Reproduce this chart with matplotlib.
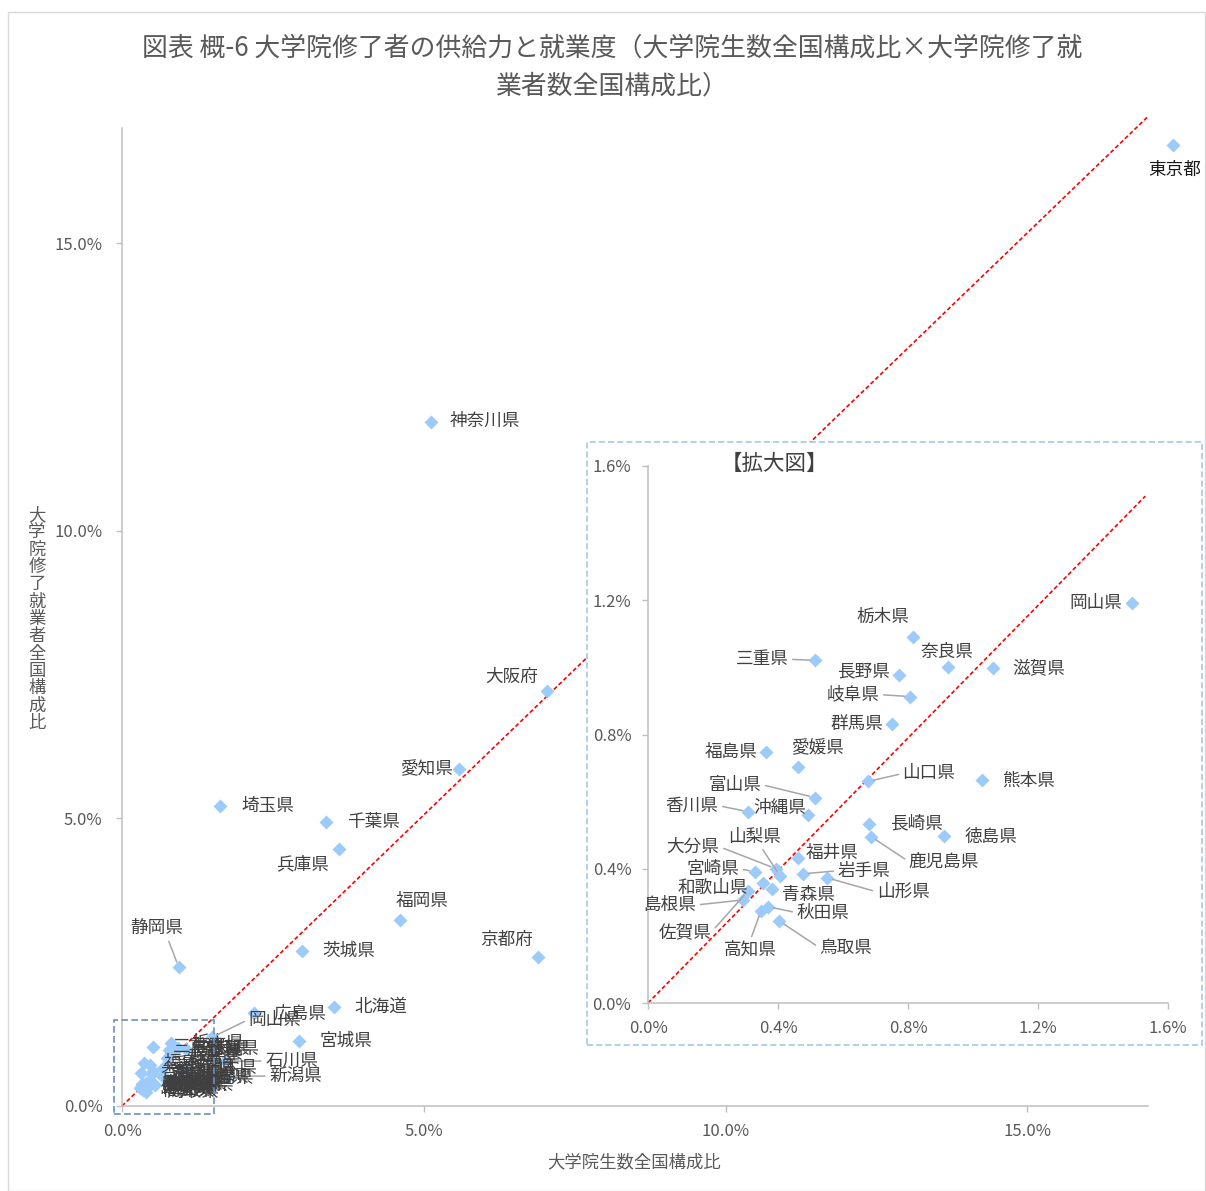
import matplotlib

matplotlib.use("Agg")
import matplotlib.pyplot as plt  # noqa: E402
from matplotlib.patches import Rectangle  # noqa: E402
from matplotlib.ticker import FuncFormatter  # noqa: E402

plt.rcParams["font.family"] = ["Noto Sans CJK JP", "DejaVu Sans"]

# 全国構成比 (%)  x: 大学院生数, y: 大学院修了就業者数
prefectures = [
    "北海道", "青森県", "岩手県", "宮城県", "秋田県", "山形県", "福島県",
    "茨城県", "栃木県", "群馬県", "埼玉県", "千葉県", "東京都", "神奈川県",
    "新潟県", "富山県", "石川県", "福井県", "山梨県", "長野県", "岐阜県",
    "静岡県", "愛知県", "三重県", "滋賀県", "京都府", "大阪府", "兵庫県",
    "奈良県", "和歌山県", "鳥取県", "島根県", "岡山県", "広島県", "山口県",
    "徳島県", "香川県", "愛媛県", "高知県", "福岡県", "佐賀県", "長崎県",
    "熊本県", "大分県", "宮崎県", "鹿児島県", "沖縄県",
]
student_share = [
    3.51, 0.382, 0.477, 2.93, 0.369, 0.551, 0.363,
    2.98, 0.815, 0.751, 1.62, 3.38, 17.42, 5.12,
    1.75, 0.514, 1.70, 0.462, 0.406, 0.772, 0.806,
    0.94, 5.58, 0.514, 1.062, 6.89, 7.04, 3.59,
    0.923, 0.354, 0.403, 0.292, 1.489, 2.19, 0.677,
    0.911, 0.308, 0.462, 0.348, 4.60, 0.308, 0.680,
    1.028, 0.394, 0.329, 0.686, 0.492,
]
employ_share = [
    1.72, 0.340, 0.385, 1.13, 0.287, 0.373, 0.749,
    2.69, 1.090, 0.830, 5.21, 4.93, 16.70, 11.89,
    0.52, 0.612, 0.78, 0.433, 0.379, 0.976, 0.913,
    2.41, 5.85, 1.021, 0.997, 2.59, 7.22, 4.46,
    1.000, 0.358, 0.245, 0.307, 1.191, 1.61, 0.660,
    0.499, 0.570, 0.704, 0.275, 3.23, 0.334, 0.534,
    0.663, 0.400, 0.391, 0.496, 0.561,
]

main_ticks = [0, 5, 10, 15]
inset_ticks = [0, 0.4, 0.8, 1.2, 1.6]
main_max = 17.0
inset_max = 1.6

# y = x の参考線（端点）
ref_main = ([0, 17.0], [0, 17.2])
ref_inset = ([0, 1.53], [0, 1.51])

title = "図表 概-6 大学院修了者の供給力と就業度（大学院生数全国構成比×大学院修了就\n業者数全国構成比）"
xlabel = "大学院生数全国構成比"
ylabel = "大学院修了就業者全国構成比"
inset_title = "【拡大図】"

# ラベル位置 (offset pixels), leader = 引き出し線の起点 (relpos)
main_labels = {
    "東京都": (1, -25, None), "神奈川県": (54, 1, None), "大阪府": (-35, 14, None),
    "愛知県": (-32, 0, None), "埼玉県": (48, 0, None), "千葉県": (48, 0, None),
    "兵庫県": (-36, -15, None), "福岡県": (22, 19, None), "京都府": (-31, 17, None),
    "茨城県": (47, 0, None), "静岡県": (-22, 39, (0.7, 0)), "北海道": (47, 0, None),
    "宮城県": (47, 0, None), "広島県": (46, 0, None), "岡山県": (63, 18, (0, 0.5)),
    "石川県": (67, 0, (0, 0.5)), "新潟県": (68, 0, (0, 0.5)),
}
L, R = (1, 0.5), (0, 0.5)
inset_labels = {
    "岡山県": (-36, 0, None), "栃木県": (-30, 20, None), "奈良県": (-1, 15, None),
    "滋賀県": (46, 0, None), "三重県": (-53, 1, L), "長野県": (-35, 4, None),
    "岐阜県": (-57, 2, L), "群馬県": (-35, 0, None), "福島県": (-35, 0, None),
    "愛媛県": (19, 18, None), "山口県": (61, 8, R), "熊本県": (46, 0, None),
    "富山県": (-80, 13, L), "香川県": (-56, 6, L), "沖縄県": (-28, 7, None),
    "長崎県": (47, 0, None), "鹿児島県": (73, -25, R), "徳島県": (47, -1, None),
    "大分県": (-83, 22, L), "山梨県": (-25, 39, (0.6, 0)), "福井県": (34, 5, None),
    "宮崎県": (-42, 3, L), "岩手県": (61, 3, R), "和歌山県": (-50, -5, None),
    "青森県": (36, -6, None), "山形県": (76, -14, R), "島根県": (-73, -5, L),
    "秋田県": (55, -6, R), "佐賀県": (-63, -41, L), "高知県": (-11, -39, (0.5, 1)),
    "鳥取県": (67, -27, R),
}

MARKER = "#9CCBFA"
TEXT = "#404040"
AXIS = "#BFBFBF"
TICK_TEXT = "#595959"
LEADER = "#A6A6A6"
LABEL_FS = 12.7
MS = 7.3

W, H = 1206, 1191


def fx(px):
    return px / W


def fy(py):
    return 1 - py / H


def pct(v, _):
    return f"{v:.1f}%"


def style_axes(a, ticks, lim, pad_x, pad_y):
    for s in ("top", "right"):
        a.spines[s].set_visible(False)
    for s in ("left", "bottom"):
        a.spines[s].set_color(AXIS)
        a.spines[s].set_linewidth(1.1)
    a.set_xlim(0, lim)
    a.set_ylim(0, lim)
    a.set_xticks(ticks)
    a.set_yticks(ticks)
    a.xaxis.set_major_formatter(FuncFormatter(pct))
    a.yaxis.set_major_formatter(FuncFormatter(pct))
    a.tick_params(colors=AXIS, labelcolor=TICK_TEXT, labelsize=12, length=4, width=1)
    a.tick_params(axis="x", pad=pad_x)
    a.tick_params(axis="y", pad=pad_y)


def label_point(a, name, x, y, dx, dy, leader, color=TEXT):
    kw = {}
    if leader is not None:
        kw["arrowprops"] = dict(arrowstyle="-", color=LEADER, lw=1.1,
                                shrinkA=1, shrinkB=4, relpos=leader)
    a.annotate(name, (x, y), xytext=(dx, dy), textcoords="offset pixels",
               ha="center", va="center", fontsize=LABEL_FS, color=color,
               annotation_clip=False, zorder=3, **kw)


fig = plt.figure(figsize=(W / 100, H / 100), dpi=100)
fig.patches.append(Rectangle((fx(8), 0), fx(1205) - fx(8), fy(12), transform=fig.transFigure,
                             fill=False, ec="#D9D9D9", lw=1.0))

# ---- main chart ----
ax = fig.add_axes([fx(122), fy(1106), fx(1148) - fx(122), fy(128) - fy(1106)])
style_axes(ax, main_ticks, main_max, 8, 10)
ax.plot(*ref_main, color="red", lw=1.2, dashes=(2.5, 1.5), clip_on=False, zorder=2)
ax.plot(student_share, employ_share, ls="none", marker="D", ms=MS, color=MARKER,
        mec="none", clip_on=False, zorder=3)
ax.add_patch(Rectangle((-0.13, -0.14), 1.65, 1.63, fill=False, ec="#6A8FC2",
                       ls=(0, (4, 2)), lw=1.2, clip_on=False, zorder=4))

for name, x, y in zip(prefectures, student_share, employ_share):
    if name in main_labels:
        dx, dy, leader = main_labels[name]
        color = "#1A1A1A" if name == "東京都" else TEXT
        label_point(ax, name, x, y, dx, dy, leader, color)
    else:
        ax.annotate(name, (x, y), xytext=(20, 0), textcoords="offset pixels",
                    ha="left", va="center", fontsize=LABEL_FS, color=TEXT, zorder=3)

# inset frame (covers the main chart)
ax.add_patch(Rectangle((fx(587), fy(1045)), fx(1202) - fx(587), fy(442) - fy(1045),
                       transform=fig.transFigure, fc="white", ec="#9DC3E6",
                       ls=(0, (4, 2)), lw=1.1, clip_on=False, zorder=6))

# ---- inset ----
axi = fig.add_axes([fx(648), fy(1003), fx(1168) - fx(648), fy(466) - fy(1003)])
axi.set_facecolor("none")
style_axes(axi, inset_ticks, inset_max, 8, 8)
axi.plot(*ref_inset, color="red", lw=1.2, dashes=(2.5, 1.5), zorder=2)
small = [(n, x, y) for n, x, y in zip(prefectures, student_share, employ_share)
         if x < inset_max and y < inset_max]
axi.plot([s[1] for s in small], [s[2] for s in small], ls="none", marker="D", ms=MS,
         color=MARKER, mec="none", clip_on=False, zorder=3)
for name, x, y in small:
    dx, dy, leader = inset_labels[name]
    label_point(axi, name, x, y, dx, dy, leader)

fig.text(fx(774), fy(464), inset_title, ha="center", va="center", fontsize=15.5, color=TEXT)

# ---- titles ----
fig.text(fx(612), fy(67), title, ha="center", va="center", fontsize=18.6,
         color=TICK_TEXT, linespacing=1.55)
fig.text(fx(634), fy(1162), xlabel, ha="center", va="center", fontsize=12.5, color=TICK_TEXT)
fig.text(fx(37), fy(619), "\n".join(ylabel), ha="center", va="center", fontsize=12.5,
         color=TICK_TEXT, linespacing=0.95)

fig.savefig("out.png", dpi=100)
plt.close(fig)
